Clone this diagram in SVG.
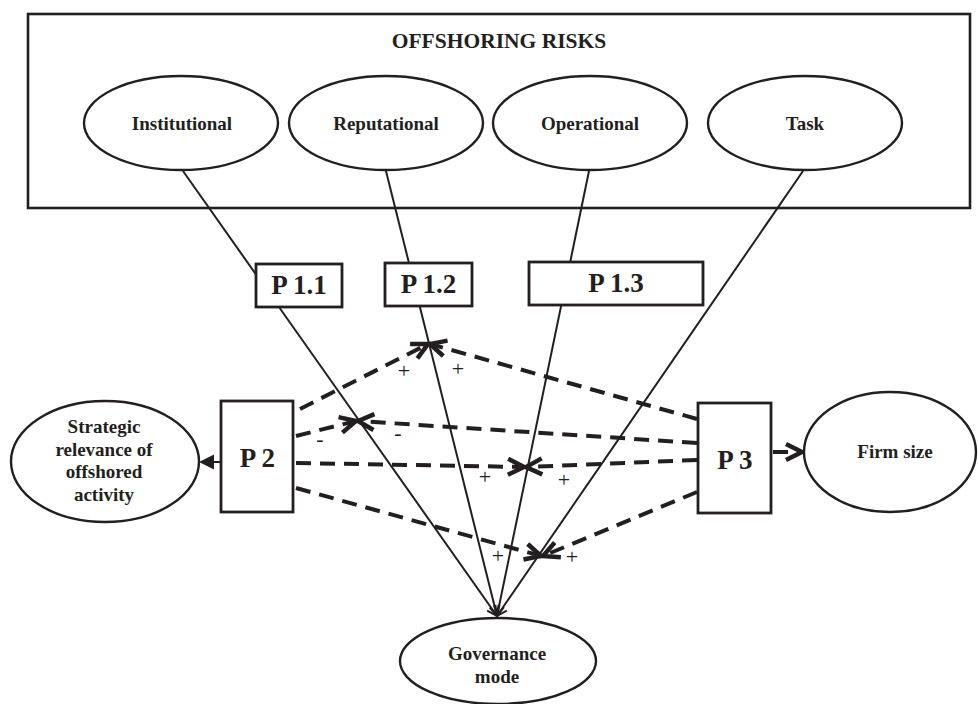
<svg xmlns="http://www.w3.org/2000/svg" width="978" height="704" viewBox="0 0 978 704">
<style>
.lbl{font-family:"Liberation Serif","Times New Roman",serif;font-weight:bold;fill:#231f20;text-anchor:middle}
.pl{font-family:"Liberation Serif","Times New Roman",serif;font-weight:bold;font-size:27px;fill:#231f20;text-anchor:middle}
.sg{font-family:"Liberation Serif","Times New Roman",serif;font-size:22px;fill:#231f20;text-anchor:middle}
.el{fill:#fff;stroke:#231f20;stroke-width:2.4}
.bx{fill:#fff;stroke:#231f20;stroke-width:2.8}
.sol{stroke:#231f20;stroke-width:2;fill:none}
.dsh{stroke:#231f20;stroke-width:4;fill:none;stroke-dasharray:15 9}
</style>
<defs>
<marker id="ah" markerUnits="userSpaceOnUse" viewBox="-20 -12 24 24" markerWidth="24" markerHeight="24" refX="0" refY="0" orient="auto">
<path d="M-16,-8 L0,0 L-16,8" fill="none" stroke="#231f20" stroke-width="4.5" stroke-dasharray="none"/>
</marker>
<marker id="as" markerUnits="userSpaceOnUse" viewBox="-14 -8 16 16" markerWidth="16" markerHeight="16" refX="0" refY="0" orient="auto">
<path d="M-10,-5 L0,0 L-10,5" fill="none" stroke="#231f20" stroke-width="2"/>
</marker>
</defs>
<rect x="0" y="0" width="978" height="704" fill="#fff"/>

<g id="connectors">
<line class="sol" x1="183" y1="171" x2="497" y2="616" marker-end="url(#as)"/>
<line class="sol" x1="386" y1="171" x2="497" y2="616" marker-end="url(#as)"/>
<line class="sol" x1="589" y1="171" x2="497" y2="616" marker-end="url(#as)"/>
<line class="sol" x1="803" y1="171" x2="497" y2="616" marker-end="url(#as)"/>

<line class="dsh" x1="300" y1="409" x2="428" y2="344" marker-end="url(#ah)"/>
<line class="dsh" x1="697" y1="419" x2="430" y2="344" marker-end="url(#ah)"/>
<line class="dsh" x1="296" y1="436" x2="356" y2="421" marker-end="url(#ah)"/>
<line class="dsh" x1="697" y1="443" x2="358" y2="421" marker-end="url(#ah)"/>
<line class="dsh" x1="296" y1="463" x2="524" y2="467" marker-end="url(#ah)"/>
<line class="dsh" x1="697" y1="460" x2="526" y2="467" marker-end="url(#ah)"/>
<line class="dsh" x1="296" y1="488" x2="541" y2="556" marker-end="url(#ah)"/>
<line class="dsh" x1="697" y1="492" x2="543" y2="556" marker-end="url(#ah)"/>
<line class="dsh" x1="773" y1="452" x2="802" y2="452" stroke-dasharray="8 6" marker-end="url(#ah)"/>

<line class="sol" x1="221" y1="462" x2="212" y2="462" stroke-width="2.5"/>
<polygon points="199,462 214,454.5 214,469.5" fill="#231f20"/>

<text class="sg" x="404" y="378">+</text>
<text class="sg" x="458" y="376">+</text>
<text class="sg" x="320" y="446">-</text>
<text class="sg" x="398" y="440">-</text>
<text class="sg" x="485" y="484">+</text>
<text class="sg" x="564" y="487">+</text>
<text class="sg" x="498" y="563">+</text>
<text class="sg" x="572" y="564">+</text>
</g>

<g id="offshoring-risks">
<rect x="28" y="14" width="942" height="194" fill="none" stroke="#231f20" stroke-width="2.6"/>
<text class="lbl" x="499" y="48" font-size="21.5">OFFSHORING RISKS</text>
</g>
<g id="institutional">
<ellipse class="el" cx="181" cy="123" rx="97" ry="47"/>
<text class="lbl" x="182" y="130" font-size="19">Institutional</text>
</g>
<g id="reputational">
<ellipse class="el" cx="386" cy="123" rx="97" ry="47"/>
<text class="lbl" x="386" y="130" font-size="19">Reputational</text>
</g>
<g id="operational">
<ellipse class="el" cx="590" cy="123" rx="97" ry="47"/>
<text class="lbl" x="590" y="130" font-size="19">Operational</text>
</g>
<g id="task">
<ellipse class="el" cx="805" cy="123" rx="97" ry="47"/>
<text class="lbl" x="805" y="130" font-size="19">Task</text>
</g>

<g id="p11">
<rect class="bx" x="256" y="264" width="86" height="43"/>
<text class="pl" x="299" y="294">P 1.1</text>
</g>
<g id="p12">
<rect class="bx" x="385" y="263" width="87" height="43"/>
<text class="pl" x="428.5" y="293">P 1.2</text>
</g>
<g id="p13">
<rect class="bx" x="529" y="262" width="174" height="43"/>
<text class="pl" x="616" y="292">P 1.3</text>
</g>

<g id="p2">
<rect class="bx" x="221" y="401" width="72" height="111"/>
<text class="pl" x="257.5" y="467">P 2</text>
</g>
<g id="p3">
<rect class="bx" x="698" y="403" width="73" height="110"/>
<text class="pl" x="735" y="469">P 3</text>
</g>

<g id="strategic-relevance">
<ellipse class="el" cx="105" cy="461.5" rx="94" ry="60.5"/>
<text class="lbl" x="104" y="433" font-size="19">Strategic</text>
<text class="lbl" x="104" y="456" font-size="19">relevance of</text>
<text class="lbl" x="104" y="478" font-size="19">offshored</text>
<text class="lbl" x="104" y="501" font-size="19">activity</text>
</g>
<g id="firm-size">
<ellipse class="el" cx="890" cy="452" rx="86" ry="60"/>
<text class="lbl" x="895" y="458" font-size="19">Firm size</text>
</g>
<g id="governance-mode">
<ellipse class="el" cx="498" cy="661" rx="98" ry="43"/>
<text class="lbl" x="497" y="660" font-size="19">Governance</text>
<text class="lbl" x="497" y="683" font-size="19">mode</text>
</g>
</svg>
